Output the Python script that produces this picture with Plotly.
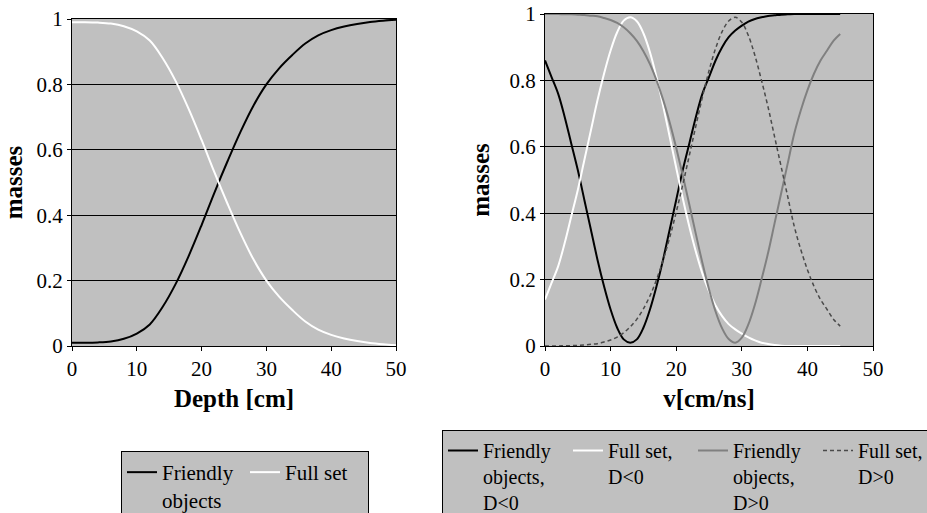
import plotly.graph_objects as go

# ---------------- data ----------------
# Left panel: masses vs depth
depth_cm = [0, 2, 4, 6, 8, 10, 12, 14, 16, 18, 20, 22, 24, 26, 28, 30,
            32, 34, 36, 38, 40, 42, 44, 46, 48, 50]
friendly_depth = [0.010, 0.010, 0.011, 0.014, 0.022, 0.038, 0.066, 0.120, 0.190, 0.275,
                  0.370, 0.470, 0.565, 0.655, 0.735, 0.800, 0.850, 0.890, 0.925, 0.950,
                  0.966, 0.977, 0.985, 0.991, 0.995, 0.998]
fullset_depth = [0.990, 0.990, 0.989, 0.986, 0.978, 0.962, 0.934, 0.880, 0.810, 0.725,
                 0.630, 0.530, 0.435, 0.345, 0.265, 0.200, 0.150, 0.110, 0.075, 0.050,
                 0.034, 0.023, 0.015, 0.009, 0.005, 0.002]

# Right panel: masses vs velocity
v_cm_ns = list(range(0, 46))
friendly_dneg = [0.86, 0.81, 0.76, 0.69, 0.61, 0.53, 0.44, 0.35, 0.26, 0.18,
                 0.11, 0.055, 0.02, 0.01, 0.02, 0.055, 0.11, 0.18, 0.26, 0.35,
                 0.44, 0.53, 0.61, 0.69, 0.76, 0.81, 0.86, 0.90, 0.93, 0.95,
                 0.965, 0.977, 0.985, 0.99, 0.994, 0.996, 0.998, 0.999, 1.0, 1.0,
                 1.0, 1.0, 1.0, 1.0, 1.0, 1.0]
fullset_dneg = [0.14, 0.19, 0.24, 0.31, 0.39, 0.47, 0.56, 0.65, 0.74, 0.82,
                0.89, 0.945, 0.98, 0.99, 0.978, 0.942, 0.885, 0.81, 0.724, 0.631,
                0.537, 0.445, 0.36, 0.284, 0.218, 0.165, 0.122, 0.09, 0.066, 0.05,
                0.037, 0.026, 0.017, 0.01, 0.006, 0.003, 0.001, 0.0, 0.0, 0.0,
                0.0, 0.0, 0.0, 0.0, 0.0, 0.0]
friendly_dpos = [1.0, 1.0, 1.0, 0.999, 0.999, 0.998, 0.997, 0.995, 0.993, 0.988,
                 0.982, 0.973, 0.96, 0.942, 0.919, 0.888, 0.849, 0.80, 0.742, 0.674,
                 0.597, 0.514, 0.426, 0.337, 0.25, 0.171, 0.104, 0.053, 0.021, 0.01,
                 0.025, 0.065, 0.125, 0.20, 0.28, 0.37, 0.46, 0.55, 0.64, 0.71,
                 0.77, 0.82, 0.86, 0.89, 0.92, 0.94]
fullset_dpos = [0.0, 0.0, 0.0, 0.001, 0.001, 0.002, 0.003, 0.005, 0.007, 0.012,
                0.018, 0.027, 0.04, 0.058, 0.081, 0.112, 0.151, 0.20, 0.258, 0.326,
                0.403, 0.486, 0.574, 0.663, 0.75, 0.829, 0.896, 0.947, 0.979, 0.99,
                0.975, 0.935, 0.875, 0.80, 0.72, 0.63, 0.54, 0.45, 0.36, 0.29,
                0.23, 0.18, 0.14, 0.11, 0.08, 0.06]

x_ticks = [0, 10, 20, 30, 40, 50]
y_ticks = [0, 0.2, 0.4, 0.6, 0.8, 1]
y_ticklabels = ["0", "0.2", "0.4", "0.6", "0.8", "1"]

# ---------------- figure ----------------
W, H = 927, 513
SERIF = "Liberation Serif"
BG = "#c0c0c0"

fig = go.Figure()

fig.add_trace(go.Scatter(x=depth_cm, y=friendly_depth, mode="lines", name="Friendly<br>objects",
                         line=dict(color="black", width=2, shape="spline"),
                         xaxis="x", yaxis="y", legend="legend", cliponaxis=False))
fig.add_trace(go.Scatter(x=depth_cm, y=fullset_depth, mode="lines", name="Full set",
                         line=dict(color="white", width=2, shape="spline"),
                         xaxis="x", yaxis="y", legend="legend", cliponaxis=False))

fig.add_trace(go.Scatter(x=v_cm_ns, y=friendly_dneg, mode="lines", name="Friendly<br>objects,<br>D&lt;0",
                         line=dict(color="black", width=2, shape="spline"),
                         xaxis="x2", yaxis="y2", legend="legend2", cliponaxis=False))
fig.add_trace(go.Scatter(x=v_cm_ns, y=fullset_dneg, mode="lines", name="Full set,<br>D&lt;0",
                         line=dict(color="white", width=2, shape="spline"),
                         xaxis="x2", yaxis="y2", legend="legend2", cliponaxis=False))
fig.add_trace(go.Scatter(x=v_cm_ns, y=friendly_dpos, mode="lines", name="Friendly<br>objects,<br>D&gt;0",
                         line=dict(color="#808080", width=2, shape="spline"),
                         xaxis="x2", yaxis="y2", legend="legend2", cliponaxis=False))
fig.add_trace(go.Scatter(x=v_cm_ns, y=fullset_dpos, mode="lines", name="Full set,<br>D&gt;0",
                         line=dict(color="#4a4a4a", width=1.5, dash="4px,3px", shape="spline"),
                         xaxis="x2", yaxis="y2", legend="legend2", cliponaxis=False))

tickfont = dict(family=SERIF, size=21, color="black")
titlefont = dict(family=SERIF, size=25, color="black", weight="bold")

def xax(domain, anchor, title):
    return dict(domain=domain, anchor=anchor, range=[0, 50], tickvals=x_ticks,
                ticks="outside", ticklen=4, tickcolor="black", tickfont=tickfont,
                showline=True, linecolor="black", linewidth=1, mirror=True,
                showgrid=False, zeroline=False,
                title=dict(text=title, font=titlefont, standoff=9))

def yax(domain, anchor):
    return dict(domain=domain, anchor=anchor, range=[0, 1], tickvals=y_ticks,
                ticktext=y_ticklabels,
                ticks="outside", ticklen=4, tickcolor="black", tickfont=tickfont,
                showline=True, linecolor="black", linewidth=1, mirror=True,
                showgrid=True, gridcolor="black", gridwidth=1, zeroline=False,
                title=dict(text="masses", font=titlefont, standoff=12))

legend_common = dict(orientation="h", bgcolor=BG, bordercolor="black", borderwidth=1,
                     valign="top", xanchor="left", yanchor="top",
                     entrywidthmode="pixels", itemwidth=30, tracegroupgap=0)

fig.update_layout(
    width=W, height=H,
    margin=dict(l=0, r=0, t=0, b=0, autoexpand=False),
    paper_bgcolor="white",
    plot_bgcolor=BG,
    font=dict(family=SERIF, color="black"),
    xaxis=xax([72 / W, 396 / W], "y", "Depth [cm]"),
    yaxis=yax([1 - 346 / H, 1 - 19 / H], "x"),
    xaxis2=xax([545 / W, 873 / W], "y2", "v[cm/ns]"),
    yaxis2=yax([1 - 346 / H, 1 - 14 / H], "x2"),
    legend=dict(legend_common, x=121 / W, y=1 - 451 / H, entrywidth=78,
                font=dict(family=SERIF, size=21, color="black")),
    legend2=dict(legend_common, x=442 / W, y=1 - 430 / H, entrywidth=80,
                 font=dict(family=SERIF, size=20, color="black")),
    showlegend=True,
)

fig.write_html("out.html", config={"displayModeBar": False},
               post_script="document.body.style.margin='0px';document.body.style.overflow='hidden';")
